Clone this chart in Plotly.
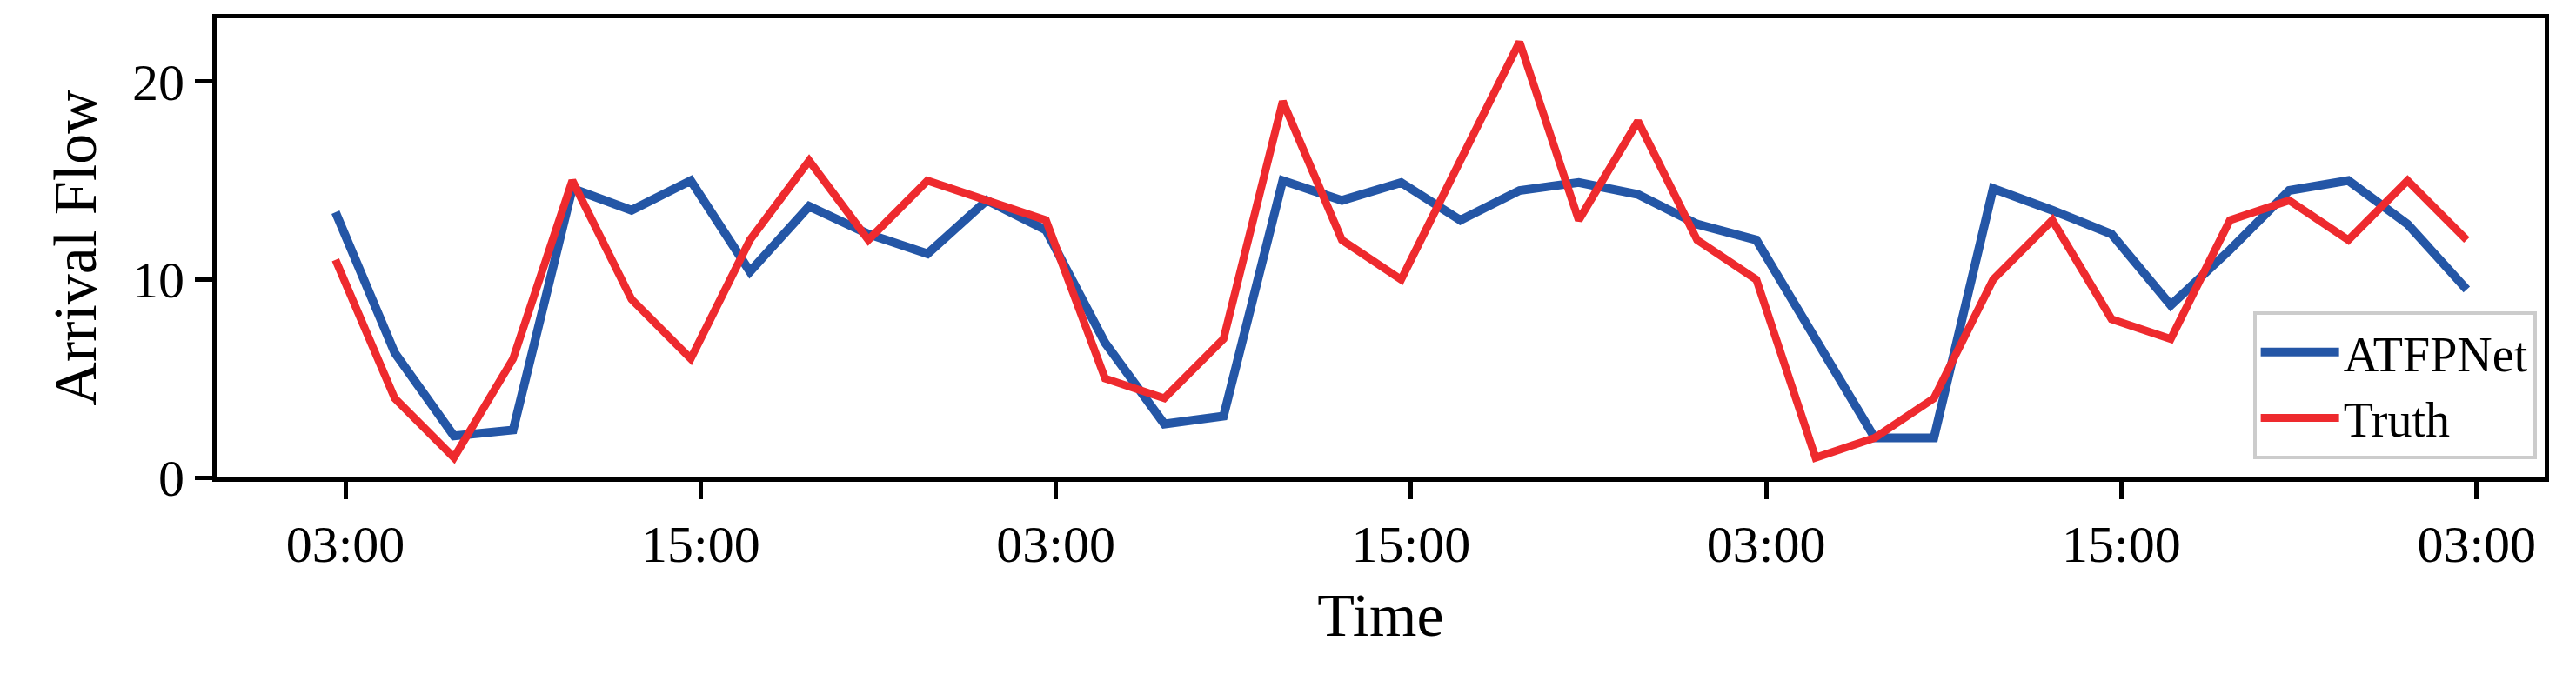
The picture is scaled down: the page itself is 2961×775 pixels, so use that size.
import pandas as pd
import plotly.graph_objects as go

# 2-hourly samples over three days
times = pd.date_range("2023-01-01 02:40", periods=37, freq="2h")
truth = [11, 4, 1, 6, 15, 9, 6, 12, 16, 12, 15, 14, 13, 5, 4, 7, 19, 12, 10, 16,
         22, 13, 18, 12, 10, 1, 2, 4, 10, 13, 8, 7, 13, 14, 12, 15, 12]
atfpnet = [13.4, 6.3, 2.1, 2.4, 14.6, 13.5, 15, 10.4, 13.7, 12.3, 11.3, 14, 12.5,
           6.8, 2.7, 3.1, 15, 14, 14.9, 13, 14.5, 14.9, 14.3, 12.8, 12, 7, 2, 2,
           14.6, 13.5, 12.3, 8.7, 11.5, 14.5, 15, 12.8, 9.5]
tick_times = pd.date_range("2023-01-01 03:00", periods=7, freq="12h")
tick_labels = ["03:00", "15:00", "03:00", "15:00", "03:00", "15:00", "03:00"]

fig = go.Figure()
fig.add_trace(go.Scatter(x=times, y=atfpnet, mode="lines", name="ATFPNet",
                         line=dict(color="#2456a6", width=10)))
fig.add_trace(go.Scatter(x=times, y=truth, mode="lines", name="Truth",
                         line=dict(color="#ee2a2e", width=9)))

axis_style = dict(showline=True, linecolor="black", linewidth=5, mirror=True,
                  ticks="outside", ticklen=20, tickwidth=5, tickcolor="black",
                  showgrid=False, zeroline=False,
                  tickfont=dict(size=60, color="black"))
fig.update_layout(
    width=2961, height=775,
    paper_bgcolor="white", plot_bgcolor="white",
    font=dict(family="Liberation Serif", color="black"),
    margin=dict(l=241, r=44, t=8, b=234),
    showlegend=True,
    legend=dict(x=0.9965, y=0.04, xanchor="right", yanchor="bottom",
                bgcolor="rgba(255,255,255,0.85)", bordercolor="#cccccc",
                borderwidth=4, font=dict(size=56), itemwidth=90, tracegroupgap=10),
    xaxis=dict(**axis_style, tickvals=tick_times, ticktext=tick_labels,
               range=[pd.Timestamp("2022-12-31 22:39"), pd.Timestamp("2023-01-04 05:18")],
               title=dict(text="Time", font=dict(size=70), standoff=25)),
    yaxis=dict(**axis_style, range=[0, 23.2], tickvals=[0, 10, 20],
               title=dict(text="Arrival Flow", font=dict(size=70), standoff=20)),
)
fig.write_html("out.html")
